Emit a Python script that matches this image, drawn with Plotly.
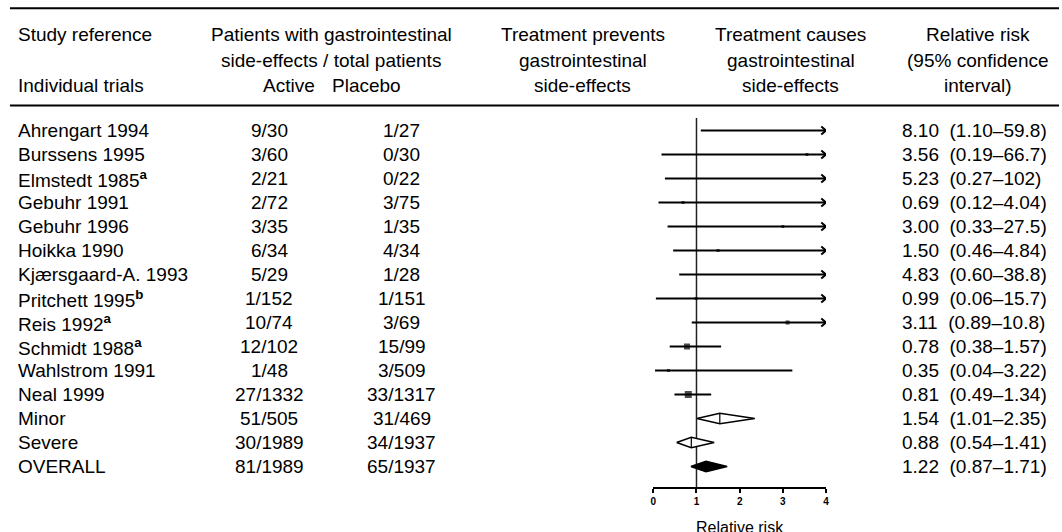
import plotly.graph_objects as go

# ---------------- data ----------------
studies = ["Ahrengart 1994", "Burssens 1995", "Elmstedt 1985<sup><b>a</b></sup>", "Gebuhr 1991",
           "Gebuhr 1996", "Hoikka 1990", "Kjærsgaard-A. 1993", "Pritchett 1995<sup><b>b</b></sup>",
           "Reis 1992<sup><b>a</b></sup>", "Schmidt 1988<sup><b>a</b></sup>", "Wahlstrom 1991",
           "Neal 1999", "Minor", "Severe", "OVERALL"]
active = ["9/30", "3/60", "2/21", "2/72", "3/35", "6/34", "5/29", "1/152", "10/74", "12/102",
          "1/48", "27/1332", "51/505", "30/1989", "81/1989"]
placebo = ["1/27", "0/30", "0/22", "3/75", "1/35", "4/34", "1/28", "1/151", "3/69", "15/99",
           "3/509", "33/1317", "31/469", "34/1937", "65/1937"]
rr = [8.10, 3.56, 5.23, 0.69, 3.00, 1.50, 4.83, 0.99, 3.11, 0.78, 0.35, 0.81, 1.54, 0.88, 1.22]
ci_lo = [1.10, 0.19, 0.27, 0.12, 0.33, 0.46, 0.60, 0.06, 0.89, 0.38, 0.04, 0.49, 1.01, 0.54, 0.87]
ci_hi = [59.8, 66.7, 102, 4.04, 27.5, 4.84, 38.8, 15.7, 10.8, 1.57, 3.22, 1.34, 2.35, 1.41, 1.71]
row_kind = ["trial"] * 12 + ["subgroup", "subgroup", "overall"]
x_ticks = [0, 1, 2, 3, 4]
x_max = 4

# ---------------- style ----------------
W, H = 1062, 532
FONT = "Liberation Sans, Arial, sans-serif"
FS = 19
marker_px = [3, 3, 3, 3, 3, 3, 3, 3, 4, 6, 3, 7]


def px(x):
    return x / W


def py(y):
    return 1 - y / H


def fmt_hi(v):
    if v >= 100:
        return f"{v:.0f}"
    if v >= 10:
        return f"{v:.1f}"
    return f"{v:.2f}"


AXIS_Y = 487.3
ROW0 = 130.5
ROWSTEP = 24.0
y_top = -ROW0 / ROWSTEP
y_bot = (AXIS_Y - ROW0) / ROWSTEP

fig = go.Figure()

# CI lines for individual trials
lx, ly = [], []
ax_, ay_ = [], []
for i, k in enumerate(row_kind):
    if k != "trial":
        continue
    lx += [ci_lo[i], min(ci_hi[i], x_max), None]
    ly += [i, i, None]
    if ci_hi[i] > x_max:
        ax_ += [x_max - 0.11, x_max, x_max - 0.11, None]
        ay_ += [i - 0.17, i, i + 0.17, None]
fig.add_trace(go.Scatter(x=lx, y=ly, mode="lines", line=dict(color="black", width=2),
                         hoverinfo="skip", showlegend=False))
fig.add_trace(go.Scatter(x=ax_, y=ay_, mode="lines", line=dict(color="black", width=2),
                         hoverinfo="skip", showlegend=False))

# point estimates (squares)
tx = [rr[i] for i, k in enumerate(row_kind) if k == "trial"]
ty = [i for i, k in enumerate(row_kind) if k == "trial"]
fig.add_trace(go.Scatter(x=tx, y=ty, mode="markers",
                         marker=dict(symbol="square", size=marker_px, color="black", line=dict(width=0)),
                         hoverinfo="skip", showlegend=False))

# diamonds
dh = 0.22
for i, k in enumerate(row_kind):
    if k == "trial":
        continue
    filled = (k == "overall")
    fig.add_trace(go.Scatter(
        x=[ci_lo[i], rr[i], ci_hi[i], rr[i], ci_lo[i]],
        y=[i, i - dh, i, i + dh, i],
        mode="lines", fill="toself",
        fillcolor="black" if filled else "white",
        line=dict(color="black", width=1.5),
        hoverinfo="skip", showlegend=False))
    if not filled:
        fig.add_trace(go.Scatter(x=[rr[i], rr[i]], y=[i - dh, i + dh], mode="lines",
                                 line=dict(color="black", width=1.2),
                                 hoverinfo="skip", showlegend=False))

# line of no effect
fig.add_shape(type="line", xref="x", yref="y", x0=1, x1=1, y0=(118 - ROW0) / ROWSTEP, y1=y_bot,
              line=dict(color="#222222", width=1.5), layer="below")

# header rules
for yy in (8.3, 105.5):
    fig.add_shape(type="line", xref="paper", yref="paper", x0=px(7), x1=1, y0=py(yy), y1=py(yy),
                  line=dict(color="black", width=2))

ann = []
SHIFT = {"left": -3, "right": 3, "center": 0}


def add_text(text, x, y, xanchor="left", yref="paper", size=FS, **kw):
    ann.append(dict(text=text, x=px(x + SHIFT[xanchor]), y=(py(y) if yref == "paper" else y),
                    xref="paper", yref=yref,
                    xanchor=xanchor, yanchor="middle", showarrow=False,
                    font=dict(family=FONT, size=size, color="black"), **kw))


# header text
H1, H2, H3 = 35, 60.5, 85.5
add_text("Study reference", 16, H1)
add_text("Individual trials", 16, H3)
add_text("Patients with gastrointestinal", 330, H1, "center")
add_text("side-effects / total patients", 330, H2, "center")
add_text("Active", 313, H3, "right")
add_text("Placebo", 332, H3, "left")
for t, yy in zip(["Treatment prevents", "gastrointestinal", "side-effects"], [H1, H2, H3]):
    add_text(t, 583, yy, "center")
for t, yy in zip(["Treatment causes", "gastrointestinal", "side-effects"], [H1, H2, H3]):
    add_text(t, 792, yy, "center")
for t, yy in zip(["Relative risk", "(95% confidence", "interval)"], [H1, H2, H3]):
    add_text(t, 981, yy, "center")

# rows
for i in range(len(studies)):
    add_text(studies[i], 16, i, "left", yref="y")
    add_text(active[i], 268, i, "center", yref="y")
    add_text(placebo[i], 401, i, "center", yref="y")
    add_text(f"{rr[i]:.2f}\u00a0\u00a0({ci_lo[i]:.2f}\u2013{fmt_hi(ci_hi[i])})", 905, i, "left", yref="y")

# axis title
add_text("Relative risk", 741, 527, "center", size=16)

fig.update_layout(
    width=W, height=H,
    margin=dict(l=0, r=0, t=0, b=0),
    paper_bgcolor="white", plot_bgcolor="white",
    annotations=ann,
    xaxis=dict(domain=[px(654), px(827.7)], range=[0, x_max], tickvals=x_ticks,
               showline=True, linecolor="black", linewidth=2, ticks="outside", ticklen=4,
               tickwidth=1.5, tickcolor="black", showgrid=False, zeroline=False,
               tickfont=dict(family=FONT, size=10, color="black", weight="bold")),
    yaxis=dict(domain=[1 - AXIS_Y / H, 1], range=[y_bot, y_top], visible=False,
               showgrid=False, zeroline=False),
    showlegend=False,
)

fig.write_html("out.html", config={"displayModeBar": False},
               post_script="document.body.style.margin='0';document.body.style.overflow='hidden';")
